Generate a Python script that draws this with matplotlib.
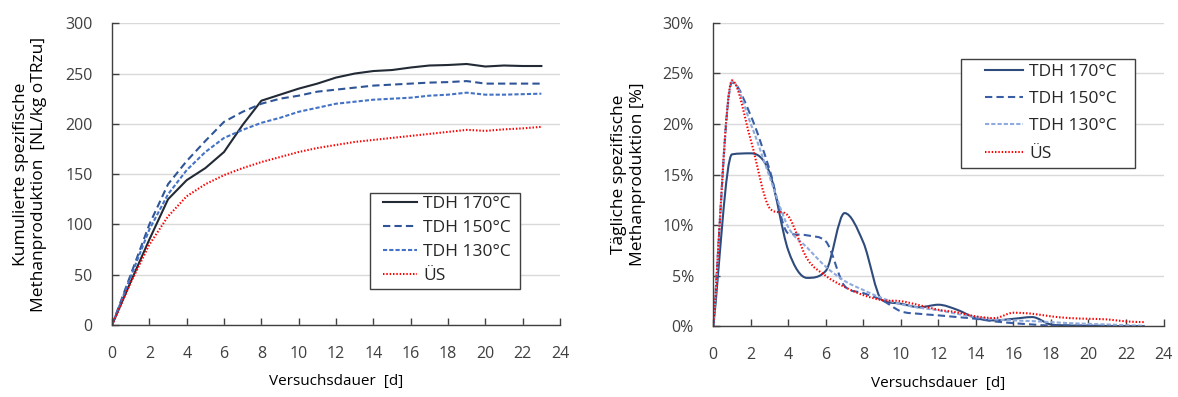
import matplotlib.pyplot as plt
from matplotlib.path import Path
from matplotlib.patches import PathPatch, Rectangle
from matplotlib.lines import Line2D
from matplotlib.ticker import FuncFormatter

plt.rcParams['font.family'] = ['Open Sans', 'DejaVu Sans']
plt.rcParams['font.size'] = 10
plt.rcParams['text.color'] = '#404040'
plt.rcParams['xtick.color'] = '#404040'
plt.rcParams['ytick.color'] = '#404040'

# ── Daten ───────────────────────────────────────────────────
days = list(range(0, 24))

# kumulierte Methanproduktion [NL/kg oTRzu]
cum_170 = [0, 43, 85, 125, 144, 156, 172, 199, 223, 229, 235, 240, 246, 250,
           252.5, 253.5, 256, 258, 258.5, 259.5, 257, 258, 257.5, 257.5]
cum_150 = [0, 50, 100, 140, 163, 183, 202, 212, 220, 225, 228, 232, 234, 236,
           238, 239, 240, 241, 241.5, 242.5, 240, 240, 240, 240]
cum_130 = [0, 48, 95, 130, 154, 172, 186, 194, 201, 206, 212, 216, 220, 222,
           224, 225, 226, 228, 229, 231, 229, 229, 229.5, 230]
cum_us = [0, 42, 80, 108, 128, 140, 149, 156, 162, 167, 172, 176, 179, 182,
          184, 186, 188, 190, 192, 194, 193, 194.5, 195.5, 197]

# tägliche Methanproduktion [%]
day_170 = [0, 17.0, 17.1, 15.2, 7.5, 4.8, 5.5, 11.2, 8.3, 2.6, 2.25, 1.9, 2.15,
           1.65, 0.83, 0.6, 0.76, 0.93, 0.2, 0.1, 0.07, 0.05, 0.03, 0.02]
day_150 = [0, 24.1, 20.8, 15.5, 9.2, 9.0, 8.4, 4.0, 3.3, 2.6, 1.5, 1.25, 1.1,
           0.93, 0.76, 0.5, 0.33, 0.2, 0.1, 0.1, 0.08, 0.06, 0.04, 0.03]
day_130 = [0, 24.2, 20.0, 14.8, 9.8, 7.8, 5.9, 4.5, 3.6, 2.8, 2.2, 1.85, 1.6,
           1.25, 0.93, 0.7, 0.6, 0.53, 0.43, 0.33, 0.26, 0.2, 0.13, 0.07]
day_us = [0, 24.3, 18.4, 11.7, 10.9, 6.7, 5.0, 3.9, 3.1, 2.6, 2.5, 2.1, 1.65,
          1.4, 1.0, 0.83, 1.36, 1.26, 1.0, 0.83, 0.76, 0.7, 0.5, 0.43]

labels = ['TDH 170°C', 'TDH 150°C', 'TDH 130°C', 'ÜS']
styles_left = [dict(color='#222a35', linestyle='-'),
               dict(color='#2f5597', linestyle=(0, (3.5, 2))),
               dict(color='#4472c4', linestyle=(0, (2, 1))),
               dict(color='#ff0000', linestyle=(0, (0.7, 0.9)))]
styles_right = [dict(color='#2f4b7c', linestyle='-'),
                dict(color='#3a5ea6', linestyle=(0, (3.5, 2))),
                dict(color='#8faadc', linestyle=(0, (2, 1))),
                dict(color='#ff0000', linestyle=(0, (0.7, 0.9)))]
LW = 1.5


def tangents(x, y):
    # Steigungen wie Catmull-Rom, an Extremwerten begrenzt (kein Überschwingen)
    n = len(x)
    d = [(y[i + 1] - y[i]) / (x[i + 1] - x[i]) for i in range(n - 1)]
    m = [d[0]] + [(d[i - 1] + d[i]) / 2 for i in range(1, n - 1)] + [d[-1]]
    for i in range(1, n - 1):
        if d[i - 1] * d[i] <= 0:
            m[i] = 0.0
        else:
            lim = 3 * min(abs(d[i - 1]), abs(d[i]))
            if abs(m[i]) > lim:
                m[i] = lim if m[i] > 0 else -lim
    return m


def smooth_path(x, y):
    m = tangents(x, y)
    verts = [(x[0], y[0])]
    codes = [Path.MOVETO]
    for i in range(len(x) - 1):
        h = (x[i + 1] - x[i]) / 3
        verts += [(x[i] + h, y[i] + m[i] * h),
                  (x[i + 1] - h, y[i + 1] - m[i + 1] * h),
                  (x[i + 1], y[i + 1])]
        codes += [Path.CURVE4] * 3
    return Path(verts, codes)


def style_axes(ax):
    for s in ['top', 'right']:
        ax.spines[s].set_visible(False)
    for s in ['left', 'bottom']:
        ax.spines[s].set_color('#404040')
        ax.spines[s].set_linewidth(1.0)
    ax.grid(axis='y', color='#d9d9d9', linewidth=1.0)
    ax.set_axisbelow(True)
    ax.tick_params(direction='in', length=5, width=1, colors='#404040',
                   labelsize=11.5)
    ax.tick_params(axis='y', pad=14)
    ax.tick_params(axis='x', pad=15)
    ax.set_xlim(0, 24)
    ax.set_xticks(range(0, 25, 2))
    ax.set_xlabel('Versuchsdauer  [d]', fontsize=11, labelpad=9)


def make_legend(ax, handles, box, anchor, spacing, hlen):
    # Rahmen separat, damit die Innenabstände wie im Original sind
    x0, y0, x1, y1 = box
    ax.add_patch(Rectangle((x0, y0), x1 - x0, y1 - y0, transform=ax.transAxes,
                           facecolor='white', edgecolor='#404040', linewidth=1.0,
                           zorder=4.5))
    leg = ax.legend(handles, labels, loc='upper left', bbox_to_anchor=anchor,
                    borderaxespad=0, borderpad=0, fontsize=12.5, frameon=False,
                    handlelength=hlen, handletextpad=0.35, labelspacing=spacing)
    leg.set_zorder(5)
    for t in leg.get_texts():
        t.set_color('#262626')


fig = plt.figure(figsize=(11.78, 3.97), dpi=100)
ax1 = fig.add_axes([0.0951, 0.1814, 0.3803, 0.7600])
ax2 = fig.add_axes([0.6055, 0.1776, 0.3822, 0.7652])

# ── links: kumuliert ──
h1 = []
for vals, st in zip([cum_170, cum_150, cum_130, cum_us], styles_left):
    h1 += ax1.plot(days, vals, linewidth=LW, **st)
style_axes(ax1)
ax1.set_ylim(0, 300)
ax1.set_yticks(range(0, 301, 50))
ax1.set_ylabel('Kumulierte spezifische\nMethanproduktion  [NL/kg oTRzu]',
               fontsize=12.5, labelpad=13, linespacing=1.2)
make_legend(ax1, h1, (0.576, 0.119, 0.911, 0.4375), (0.604, 0.428), 0.45, 2.0)

# ── rechts: täglich ──
h2 = []
for vals, st in zip([day_170, day_150, day_130, day_us], styles_right):
    ax2.add_patch(PathPatch(smooth_path(days, vals), facecolor='none',
                            edgecolor=st['color'], linestyle=st['linestyle'],
                            linewidth=LW, capstyle='butt'))
    h2.append(Line2D([], [], linewidth=LW, **st))
style_axes(ax2)
ax2.set_ylim(0, 30)
ax2.set_yticks(range(0, 31, 5))
ax2.yaxis.set_major_formatter(FuncFormatter(lambda v, p: f'{v:.0f}%'))
ax2.set_ylabel('Tägliche spezifische\nMethanproduktion [%]', fontsize=12.5,
               labelpad=12, linespacing=1.2)
make_legend(ax2, h2, (0.550, 0.521, 0.937, 0.880), (0.6035, 0.865), 0.64, 2.2)

plt.savefig('out.png', dpi=100)
